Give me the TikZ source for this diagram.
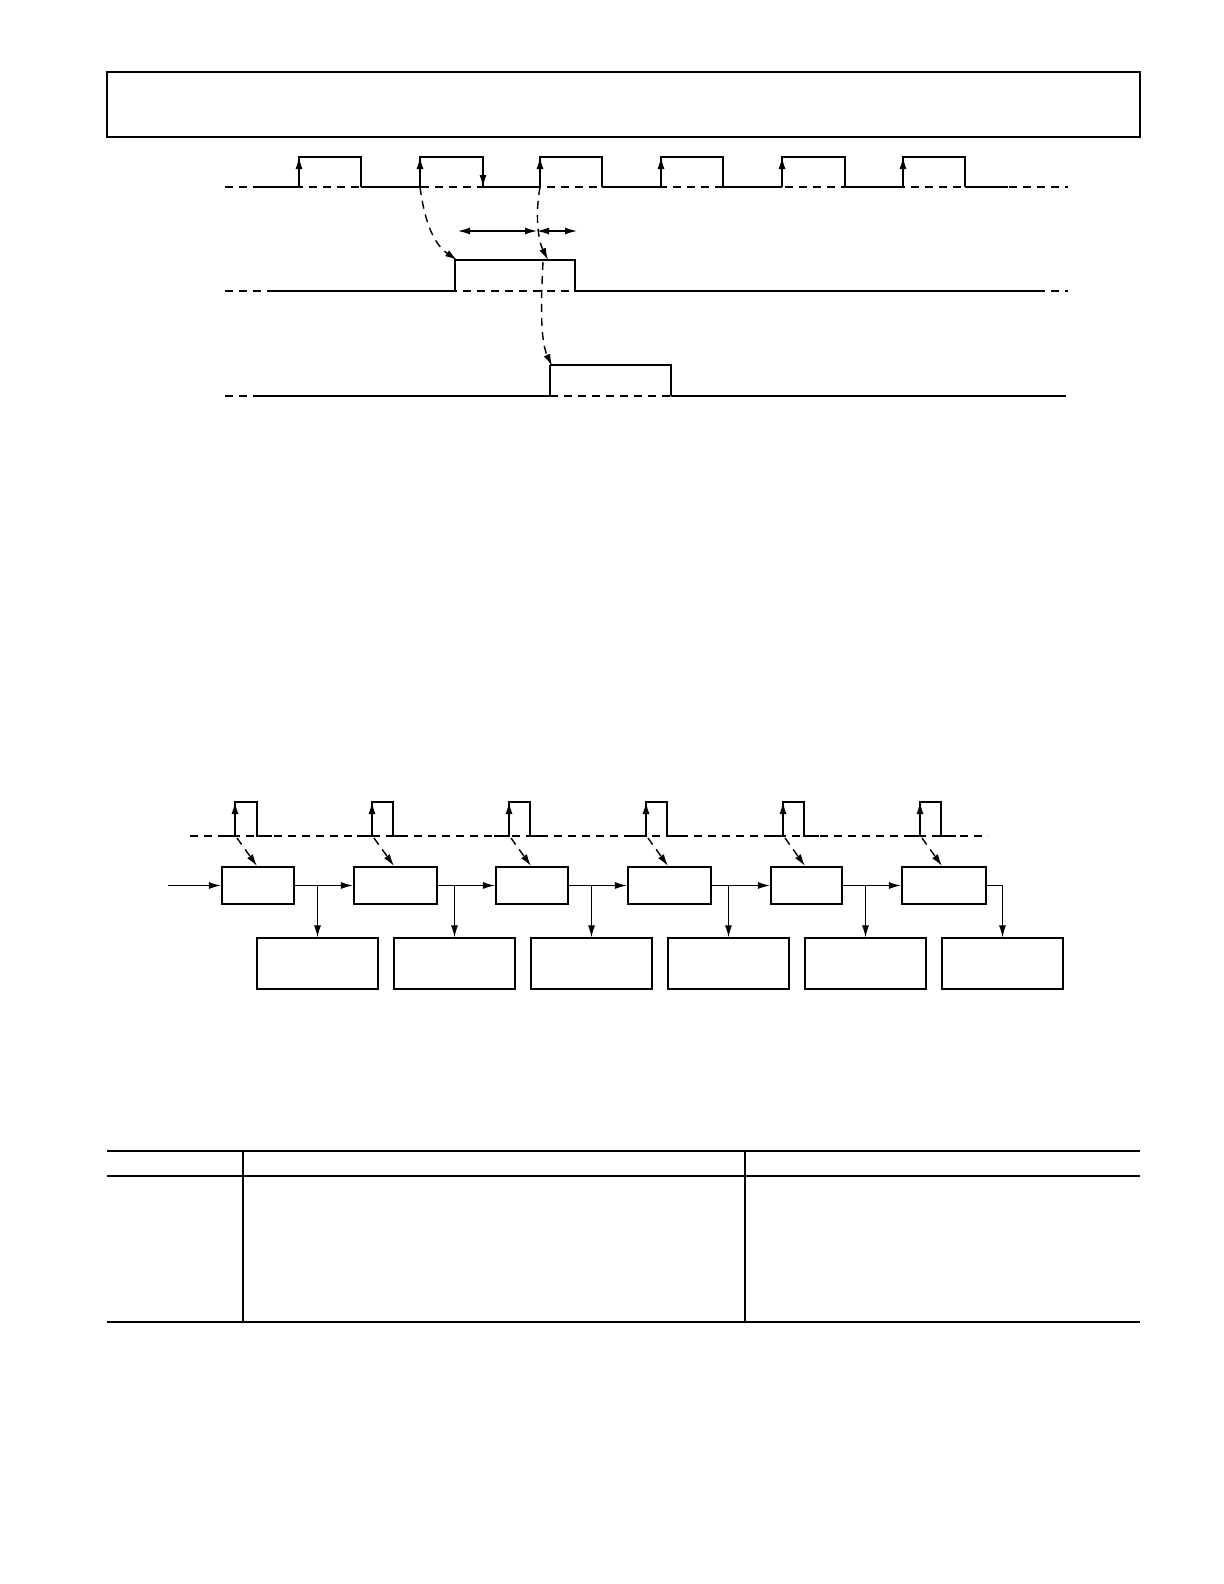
\documentclass[tikz,border=0pt]{standalone}
\usetikzlibrary{arrows.meta}
\begin{document}
\begin{tikzpicture}[x=0.5pt,y=-0.5pt,
 thin/.style={line width=0.6pt},
 thk/.style={line width=1.1pt},
 dsh/.style={line width=0.7pt,dash pattern=on 4pt off 3pt},
 arr/.style={-{Latex[length=6pt,width=3.5pt]}},
 blk/.style={draw,line width=1.1pt,minimum width=#1*0.5pt,minimum height=18.5pt,inner sep=0pt},
 obox/.style={draw,line width=0.6pt,minimum width=60.5pt,minimum height=25.5pt,inner sep=0pt}]
\draw[thk] (107,72) rectangle (1140,137);
% clock
\draw[dsh] (225,187) -- (1068,187);
\foreach \r/\f in {299/361,420/483,540/602,661/723,782/845,903/965}{
 \draw[thin] (\r,187) -- (\r,157) -- (\f,157) -- (\f,187);
 \draw[thin,arr] (\r,187) -- (\r,157);
}
\draw[thin,arr] (483,157) -- (483,187);
\draw[thk] (420,187)--(420,160);
\foreach \a/\b in {253/299,361/420,483/540,602/661,723/782,845/903,965/1008}
 \draw[thk] (\a,187)--(\b,187);
% signal 2
\draw[dsh] (225,291) -- (1068,291);
\draw[thk] (275,291) -- (455,291) -- (455,260) -- (575,260) -- (575,291) -- (1040,291);
% signal 3
\draw[dsh] (225,396) -- (257,396);
\draw[dsh] (550,396) -- (671,396);
\draw[thk] (257,396) -- (550,396) -- (550,365);
\draw[thin] (550,365) -- (671,365) -- (671,396);
\draw[thk] (671,396) -- (1066,396);
% dashed causal arrows
\coordinate (c1) at (420,187); \coordinate (t1) at (457,260);
\coordinate (c2) at (540,187); \coordinate (t2) at (548,260);
\coordinate (c3) at (543,262); \coordinate (t3) at (552,366);
\draw[dsh,arr] (c1) .. controls (425,225) and (435,245) .. (t1);
\draw[dsh,arr] (c2) .. controls (535,215) and (538,240) .. (t2);
\draw[dsh,arr] (c3) .. controls (541,300) and (540,340) .. (t3);
% dimension arrows
\coordinate (d1) at (458,231); \coordinate (d2) at (537,231); \coordinate (d3) at (577,231);
\draw[thin,{Latex[length=6pt,width=3.5pt]}-{Latex[length=6pt,width=3.5pt]}] (d1) -- (d2);
\draw[thin,{Latex[length=6pt,width=3.5pt]}-{Latex[length=6pt,width=3.5pt]}] (d2) -- (d3);
% bottom chain clock
\draw[dsh] (190,836) -- (988,836);
\foreach \r/\f in {235/257,372/393,509/530,646/667,783/804,920/941}{
 \draw[thk] (\r-15,836) -- (\r,836) -- (\r,802) -- (\f,802) -- (\f,836) -- (\f+15,836);
 \draw[thin,arr] (\r,836) -- (\r,802);
 \draw[dsh,arr] (\r+2,838) -- (\r+22,866);
}
% boxes
\node[blk=72] (b1) at (258,885.5) {};
\node[blk=83] (b2) at (395.5,885.5) {};
\node[blk=72] (b3) at (532,885.5) {};
\node[blk=83] (b4) at (669.5,885.5) {};
\node[blk=71] (b5) at (806.5,885.5) {};
\node[blk=84] (b6) at (944,885.5) {};
\foreach \i/\x in {1/317.5,2/454.5,3/591.5,4/728.5,5/865.5,6/1002.5}
 \node[obox] (o\i) at (\x,963.5) {};
\coordinate (in) at (168,885.5);
\draw[thin,arr] (in) -- (b1.west);
\foreach \i/\j in {1/2,2/3,3/4,4/5,5/6}{
 \draw[thin,arr] (b\i.east) -- (b\j.west);
 \draw[thin,arr] (o\i.north |- b\i.east) -- (o\i.north);
}
\draw[thin,arr] (b6.east) -| (o6.north);
% table
\draw[thin] (107,1151) -- (1140,1151);
\draw[thin] (107,1176) -- (1140,1176);
\draw[thk] (107,1322) -- (1140,1322);
\draw[thin] (243,1151) -- (243,1322);
\draw[thin] (745,1151) -- (745,1322);
\pgfresetboundingbox
\useasboundingbox (0,0) rectangle (1224,1584);
\end{tikzpicture}
\end{document}
